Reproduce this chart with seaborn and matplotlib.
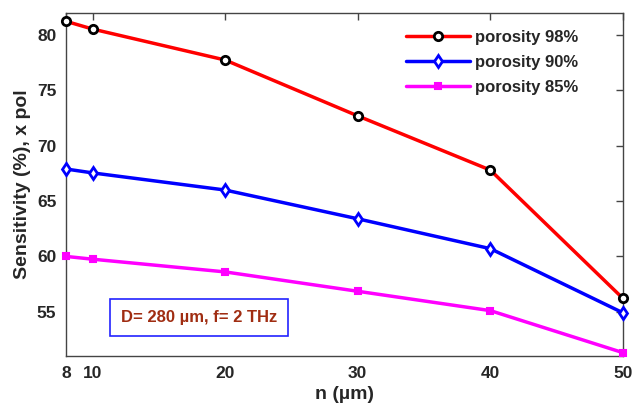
import matplotlib
matplotlib.use("Agg")
import matplotlib.pyplot as plt
import seaborn as sns
import pandas as pd

n_um = [8, 10, 20, 30, 40, 50]
por98 = [81.25, 80.55, 77.75, 72.7, 67.8, 56.2]
por90 = [67.9, 67.55, 66.0, 63.4, 60.7, 54.9]
por85 = [60.0, 59.75, 58.6, 56.85, 55.1, 51.3]
labels = ["porosity 98%", "porosity 90%", "porosity 85%"]
xticks = [8, 10, 20, 30, 40, 50]
yticks = [55, 60, 65, 70, 75, 80]

sns.set_style("white")
plt.rcParams['font.family'] = ['Liberation Sans', 'DejaVu Sans']
plt.rcParams['font.weight'] = 'bold'

fig = plt.figure(figsize=(6.42, 4.07), dpi=100)
ax = fig.add_axes([66/642, 1-356/407, (623-66)/642, (356-13)/407])

styles = [
    dict(color='#ff0000', marker='o', mfc='white', mec='black', ms=6, mew=2),
    dict(color='#0000ff', marker='d', mfc='white', mec='#0000ff', ms=6.5, mew=2),
    dict(color='#ff00ff', marker='s', mfc='#ff00ff', mec='#ff00ff', ms=5, mew=1.5),
]
for ys, lab, st in zip([por98, por90, por85], labels, styles):
    df = pd.DataFrame({"n": n_um, "s": ys})
    sns.lineplot(data=df, x="n", y="s", ax=ax, label=lab, linewidth=2.5,
                 color=st['color'], marker=st['marker'], markerfacecolor=st['mfc'],
                 markeredgecolor=st['mec'], markersize=st['ms'], markeredgewidth=st['mew'],
                 clip_on=False, zorder=3)

ax.set_xlim(8, 50)
ax.set_ylim(51, 82)
ax.set_xticks(xticks)
ax.set_yticks(yticks)
ax.tick_params(direction='in', top=True, right=True, length=5, width=1,
               color='#444444', labelsize=12.5, pad=7)
for lbl in ax.get_xticklabels() + ax.get_yticklabels():
    lbl.set_fontweight('bold')
    lbl.set_color('#262626')
for sp in ax.spines.values():
    sp.set_color('#444444')
    sp.set_linewidth(1)
ax.set_xlabel("n (µm)", fontsize=14, fontweight='bold', color='#262626', labelpad=4)
ax.set_ylabel("Sensitivity (%), x pol", fontsize=14, fontweight='bold', color='#262626', labelpad=4)

leg = ax.legend(loc='upper left', frameon=False, fontsize=12, handlelength=3.8,
                bbox_to_anchor=(0.59, 0.985), labelspacing=0.6, handletextpad=0.3,
                borderaxespad=0.3)
for t in leg.get_texts():
    t.set_fontweight('bold')
    t.set_color('#262626')

ax.text(0.098, 0.113, "D= 280 µm, f= 2 THz", transform=ax.transAxes,
        fontsize=12, fontweight='bold', color='#a02d12', va='center', ha='left',
        bbox=dict(boxstyle='square,pad=0.65', fc='white', ec='#2222ff', lw=1.2))

fig.savefig("out.png", dpi=100)
